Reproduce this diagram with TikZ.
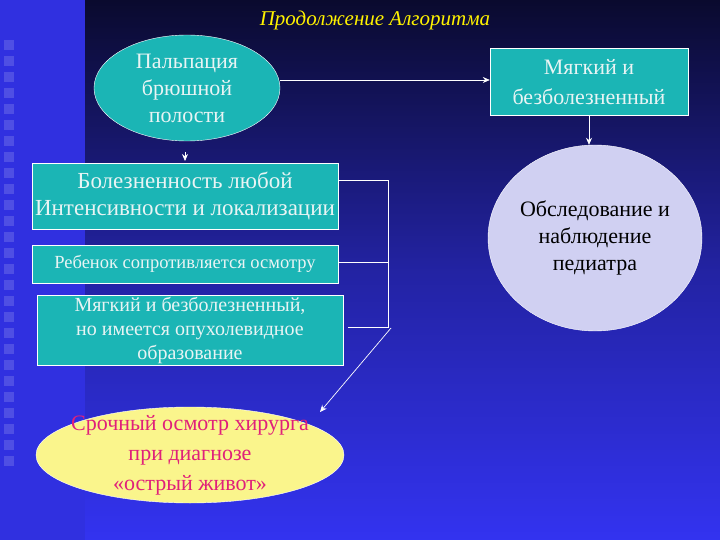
\documentclass[tikz,border=0pt]{standalone}
\usepackage{fontspec}
\setmainfont{Liberation Serif}
\usetikzlibrary{shapes.geometric,arrows.meta}
\definecolor{teal1}{HTML}{1BB5B5}
\definecolor{navy}{HTML}{0A0A2E}
\definecolor{blu}{HTML}{3333F0}
\definecolor{strip}{HTML}{3030E0}
\definecolor{lav}{HTML}{D0D0F2}
\definecolor{yel}{HTML}{FAF58C}
\definecolor{pinkt}{HTML}{E0207A}
\definecolor{ltxt}{HTML}{E8F4F4}
\tikzset{
 tbox/.style={draw=white,fill=teal1,text=ltxt,align=center,inner sep=1pt},
 conn/.style={draw=white,line width=0.7pt},
 arr/.style={conn,-{Stealth[length=7pt,width=6pt]}}
}
\begin{document}
\begin{tikzpicture}[x=1pt,y=-1pt]
\useasboundingbox (0,0) rectangle (720,540);
\fill[top color=navy,bottom color=blu,middle color=navy!40!blu] (0,0) rectangle (720,540);
\fill[strip] (0,0) rectangle (85,540);
\foreach \y in {40,56,...,470}{\fill[strip!70!white,opacity=0.5] (4,\y) rectangle (14,\y+10);}
\node[text=yellow,font=\itshape\fontsize{21}{24}\selectfont] (title) at (375,20) {Продолжение Алгоритма};
\node[ellipse,draw=white,fill=teal1,text=ltxt,minimum width=186,minimum height=106,inner sep=0,align=center,font=\fontsize{22}{27}\selectfont] (palp) at (187,88) {Пальпация\\брюшной\\полости};
\node[tbox,minimum width=306,minimum height=66,font=\fontsize{23}{27}\selectfont] (b1) at (185,196) {Болезненность любой\\Интенсивности и локализации};
\node[tbox,minimum width=306,minimum height=38,font=\fontsize{18.5}{20}\selectfont] (b2) at (185,264) {Ребенок сопротивляется осмотру};
\node[tbox,minimum width=306,minimum height=70,font=\fontsize{20}{24}\selectfont] (b3) at (190,330) {Мягкий и безболезненный,\\ но имеется опухолевидное\\образование};
\node[ellipse,draw=white,fill=yel,minimum width=308,minimum height=96,inner sep=0] (surg) at (190,455) {};
\node[text=pinkt,align=center,font=\fontsize{22}{30}\selectfont] (surgt) at (surg.center) {Срочный осмотр хирурга\\при диагнозе\\«острый живот»};
\node[tbox,minimum width=198,minimum height=67,font=\fontsize{22}{30}\selectfont] (soft) at (589,82) {Мягкий и\\безболезненный};
\node[ellipse,draw=white,fill=lav,text=black,minimum width=214,minimum height=186,inner sep=0,align=center,font=\fontsize{22}{27}\selectfont] (ped) at (595,238) {Обследование и\\наблюдение\\педиатра};
\coordinate (t1) at (185,152);
\coordinate (t2) at (185,161);
\draw[arr] (t1) -- (t2);
\draw[arr] (palp.east |- 0,80) -- (soft.west |- 0,80);
\draw[arr] (soft.south) -- (soft.south |- ped.north);
\coordinate (j1) at (388,180);
\coordinate (j2) at (388,262);
\coordinate (j3) at (388,327);
\coordinate (s3) at (348,327);
\draw[conn] (b1.east |- j1) -- (j1) -- (j3) -- (s3);
\draw[conn] (b2.east |- j2) -- (j2);
\coordinate (a0) at (391,328);
\coordinate (a1) at (320,412);
\draw[arr] (a0) -- (a1);
\end{tikzpicture}
\end{document}
